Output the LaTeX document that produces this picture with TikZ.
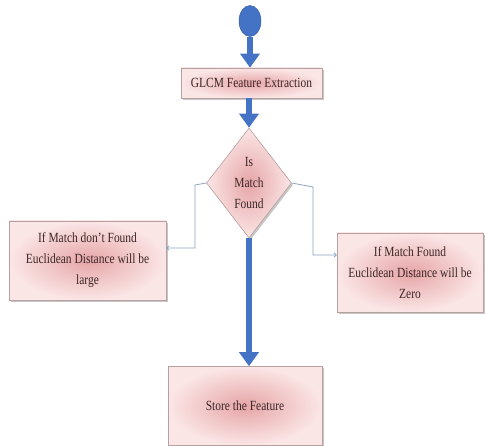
\documentclass[tikz,border=0pt]{standalone}
\usepackage{fontspec}
\setmainfont{Liberation Serif}[FakeStretch=0.82]
\usetikzlibrary{shapes.geometric,arrows.meta,shadows}
\definecolor{pinkin}{RGB}{230,165,167}
\definecolor{pinkout}{RGB}{251,230,230}
\definecolor{boxline}{RGB}{185,160,160}
\definecolor{flowblue}{RGB}{68,114,196}
\definecolor{thinblue}{RGB}{140,165,192}
\definecolor{txt}{RGB}{60,38,38}
\begin{document}
\begin{tikzpicture}[x=1pt,y=-1pt,
  pinkbox/.style={draw=boxline, line width=0.6pt, shading=radial, inner color=pinkin, outer color=pinkout,
     drop shadow={shadow xshift=1.5pt, shadow yshift=-2pt, opacity=0.45},
     text=txt, font=\fontsize{14}{21}\selectfont, align=center, inner sep=0pt},
  bigarrow/.style={draw=flowblue, line width=6.5pt, -{Triangle[width=19pt,length=14pt]}},
  thinarrow/.style={draw=thinblue, line width=0.8pt, -{To[length=3pt,width=5pt]}}]
\useasboundingbox (0,0) rectangle (485,446);
\node[ellipse, minimum width=22pt, minimum height=31pt, inner sep=0pt, fill=flowblue, draw=flowblue!85!black, line width=0.5pt] (start) at (250,21) {};
\node[pinkbox, minimum width=141pt, minimum height=30pt] (glcm) at (251.5,83) {GLCM Feature Extraction};
\node[pinkbox, diamond, minimum width=85pt, minimum height=110pt, aspect=0.77] (dia) at (249,183) {Is\\Match\\Found};
\node[pinkbox, minimum width=157pt, minimum height=79pt] (left) at (87.5,260.5) {If Match don't Found\\Euclidean Distance will be\\large};
\node[pinkbox, minimum width=146pt, minimum height=79pt] (right) at (410,272.5) {If Match Found\\Euclidean Distance will be\\Zero};
\node[pinkbox, minimum width=154pt, minimum height=79pt] (store) at (245,406) {Store the Feature};
\draw[bigarrow] (start.south) -- (glcm.north -| start.south);
\draw[bigarrow] (glcm.south -| dia.north) -- (dia.north);
\draw[bigarrow] (dia.south) -- (store.north -| dia.south);
\draw[thinarrow] (dia.west) -- (195,185) -- (195,248) -- (left.east |- 0,248);
\draw[thinarrow] (dia.east) -- (313,187) -- (313,255) -- (right.west |- 0,255);
\end{tikzpicture}
\end{document}
